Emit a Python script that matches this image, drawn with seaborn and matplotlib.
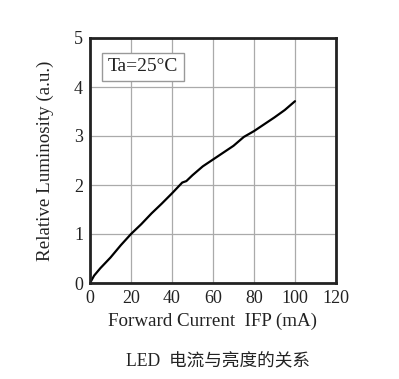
import matplotlib
matplotlib.use("Agg")
import matplotlib.pyplot as plt
import seaborn as sns
import pandas as pd

current_ma = [0, 2, 5, 10, 15, 20, 25, 30, 35, 40, 45, 47, 50, 55, 60, 65, 70, 75, 80, 85, 90, 95, 100]
luminosity = [0, 0.15, 0.3, 0.52, 0.77, 1.0, 1.2, 1.42, 1.62, 1.83, 2.05, 2.08, 2.2, 2.38, 2.52, 2.66, 2.8, 2.98, 3.1, 3.24, 3.38, 3.53, 3.71]
x_ticks = [0, 20, 40, 60, 80, 100, 120]
y_ticks = [0, 1, 2, 3, 4, 5]

sns.set_style("white")
plt.rcParams['font.family'] = ['Liberation Serif', 'Noto Sans CJK SC']

df = pd.DataFrame({"I": current_ma, "L": luminosity})

fig = plt.figure(figsize=(3.99, 3.79), dpi=100)
ax = fig.add_axes([90/399, 1 - 283/379, 246/399, 245/379])
sns.lineplot(data=df, x="I", y="L", ax=ax, color="black", linewidth=1.6)

ax.set_xlim(0, 120)
ax.set_ylim(0, 5)
ax.set_xticks(x_ticks)
ax.set_yticks(y_ticks)
ax.tick_params(axis='both', labelsize=13, length=0, pad=5, colors='#222222')
ax.grid(True, color='#aaaaaa', linewidth=0.9)
for s in ax.spines.values():
    s.set_color('#222222')
    s.set_linewidth(2)
    s.set_visible(True)

ax.set_xlabel("Forward Current  IFP (mA)", fontsize=13.7, color='#222222', labelpad=4)
ax.set_ylabel("Relative Luminosity (a.u.)", fontsize=13.7, color='#222222', labelpad=14)

ax.text(8.5, 4.41, "Ta=25°C", fontsize=14, color='#222222', va='center', ha='left',
        bbox=dict(boxstyle='square,pad=0.3', fc='white', ec='#999999', lw=1))

fig.text(218/399, 1 - 362/379, "LED  电流与亮度的关系", fontsize=12.7, ha='center', va='center',
         color='#222222', family=['Liberation Serif', 'Noto Sans CJK SC'])

fig.savefig("out.png", dpi=100)
